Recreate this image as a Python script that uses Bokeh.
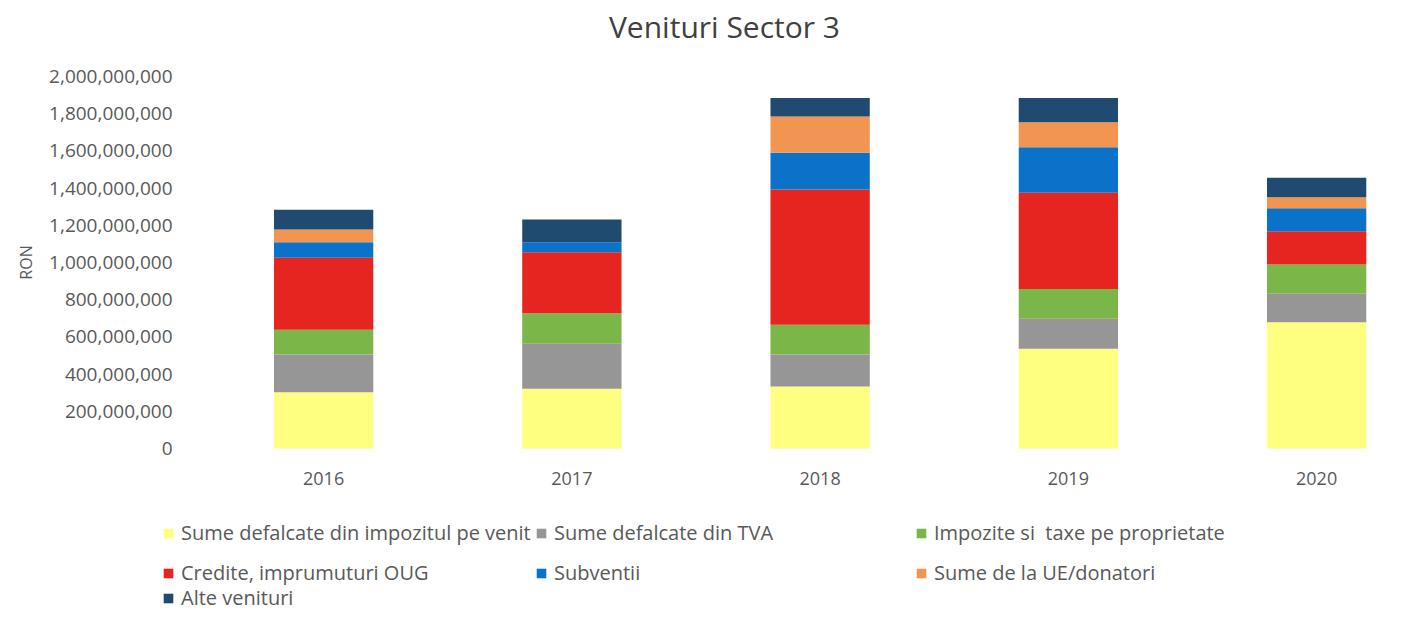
import math
from bokeh.plotting import figure
from bokeh.models import (ColumnDataSource, Legend, LegendItem, FixedTicker,
                          NumeralTickFormatter, Range1d, Label)
from bokeh.embed import file_html
from bokeh.resources import INLINE

# ---------------- data ----------------
title_text = "Venituri Sector 3"
y_axis_title = "RON"
years = [2016, 2017, 2018, 2019, 2020]
year_labels = ["2016", "2017", "2018", "2019", "2020"]

series_names = [
    "Sume defalcate din impozitul pe venit",
    "Sume defalcate din TVA",
    "Impozite si  taxe pe proprietate",
    "Credite, imprumuturi OUG",
    "Subventii",
    "Sume de la UE/donatori",
    "Alte venituri",
]
series_keys = ["impozit_venit", "tva", "proprietate", "credite",
               "subventii", "ue_donatori", "alte"]
colors = ["#FEFE80", "#969696", "#7AB648", "#E62420",
          "#0A72C9", "#F29550", "#1F4B70"]

# values in RON
impozit_venit = [303e6, 321e6, 333e6, 536e6, 679e6]
tva = [202e6, 242e6, 172e6, 161e6, 153e6]
proprietate = [133e6, 164e6, 160e6, 161e6, 157e6]
credite = [387e6, 328e6, 727e6, 517e6, 179e6]
subventii = [84e6, 54e6, 198e6, 245e6, 124e6]
ue_donatori = [68e6, 0, 195e6, 134e6, 59e6]
alte = [106e6, 122e6, 100e6, 131e6, 104e6]

y_ticks = [0, 200e6, 400e6, 600e6, 800e6, 1000e6, 1200e6, 1400e6,
           1600e6, 1800e6, 2000e6]

source = ColumnDataSource(dict(
    year=years,
    impozit_venit=impozit_venit, tva=tva, proprietate=proprietate,
    credite=credite, subventii=subventii, ue_donatori=ue_donatori, alte=alte,
))

FONT = "Open Sans"
TXT = "#595959"

# ---------------- layout geometry (pixels) ----------------
# the frame covers the whole figure so title, axis title and legend sit inside it;
# value 0 lies at y=448 px, 2e9 at y=76 px; category slots start at x=199 px
W, H = 1396, 611
Y0_PX, YTOP_PX = 448, 76
px_per_val = (Y0_PX - YTOP_PX) / 2e9
y_start = -(H - Y0_PX) / px_per_val
y_end = 2e9 + YTOP_PX / px_per_val
cat_px = 248.25                      # pixels per category
first_left_px = 199                  # left edge of the first category slot
x_start = 2015.5 - first_left_px / cat_px
x_end = 2015.5 + (W - first_left_px) / cat_px


def px_to_x(px):
    return 2015.5 + (px - first_left_px) / cat_px


def px_to_y(py):
    return (Y0_PX - py) / px_per_val


p = figure(width=W, height=H, output_backend="svg", toolbar_location=None,
           title=None,
           x_range=Range1d(x_start, x_end), y_range=Range1d(y_start, y_end),
           min_border_left=0, min_border_right=0, min_border_top=0,
           min_border_bottom=0)
p.outline_line_color = None
p.background_fill_color = "white"

renderers = p.vbar_stack(series_keys, x="year", width=0.4, color=colors,
                         line_color=None, source=source)

# chart title
p.add_layout(Label(x=px_to_x(724), y=px_to_y(26),
                   text=title_text, text_font=FONT, text_font_size="30px",
                   text_color="#404040", text_align="center",
                   text_baseline="middle"))

# y-axis title, centred on the value axis
p.add_layout(Label(x=px_to_x(25), y=(y_ticks[0] + y_ticks[-1]) / 2,
                   text=y_axis_title, angle=math.pi / 2,
                   text_font=FONT, text_font_size="16px", text_color=TXT,
                   text_align="center", text_baseline="middle"))

# y axis drawn at the left edge of the category area (labels end at x=172)
p.yaxis.fixed_location = 2015.5
p.yaxis.ticker = FixedTicker(ticks=y_ticks)
p.yaxis.bounds = (y_ticks[0], y_ticks[-1])
p.yaxis.formatter = NumeralTickFormatter(format="0,0")
p.yaxis.axis_line_color = None
p.yaxis.major_tick_line_color = None
p.yaxis.minor_tick_line_color = None
p.yaxis.major_tick_out = 0
p.yaxis.major_tick_in = 0
p.yaxis.major_label_standoff = 27
p.yaxis.major_label_text_font = FONT
p.yaxis.major_label_text_font_size = "19px"
p.yaxis.major_label_text_color = TXT

# x axis drawn at value 0
p.xaxis.fixed_location = 0
p.xaxis.ticker = FixedTicker(ticks=years)
p.xaxis.major_label_overrides = {y: l for y, l in zip(years, year_labels)}
p.xaxis.axis_line_color = None
p.xaxis.major_tick_line_color = None
p.xaxis.minor_tick_line_color = None
p.xaxis.major_tick_out = 0
p.xaxis.major_tick_in = 0
p.xaxis.major_label_standoff = 23
p.xaxis.major_label_text_font = FONT
p.xaxis.major_label_text_font_size = "18px"
p.xaxis.major_label_text_color = TXT

p.xgrid.grid_line_color = None
p.ygrid.grid_line_color = None

# legend: 3 columns x 3 rows, each item placed (pixel offsets from frame bottom-left)
col_x = [162, 535, 915]
row_y = [65, 25, 0]
slots = [(0, 0), (0, 1), (0, 2), (1, 0), (1, 1), (1, 2), (2, 0)]
for (r, c), name, rend in zip(slots, series_names, renderers):
    lg = Legend(items=[LegendItem(label=name, renderers=[rend])],
                location=(col_x[c], row_y[r]),
                orientation="horizontal",
                glyph_width=12, glyph_height=12, label_standoff=7,
                label_text_font=FONT, label_text_font_size="20px",
                label_text_color=TXT, padding=0, margin=0, spacing=0,
                border_line_color=None, background_fill_alpha=0)
    p.add_layout(lg, "center")

open("out.html", "w").write(file_html(p, INLINE))
